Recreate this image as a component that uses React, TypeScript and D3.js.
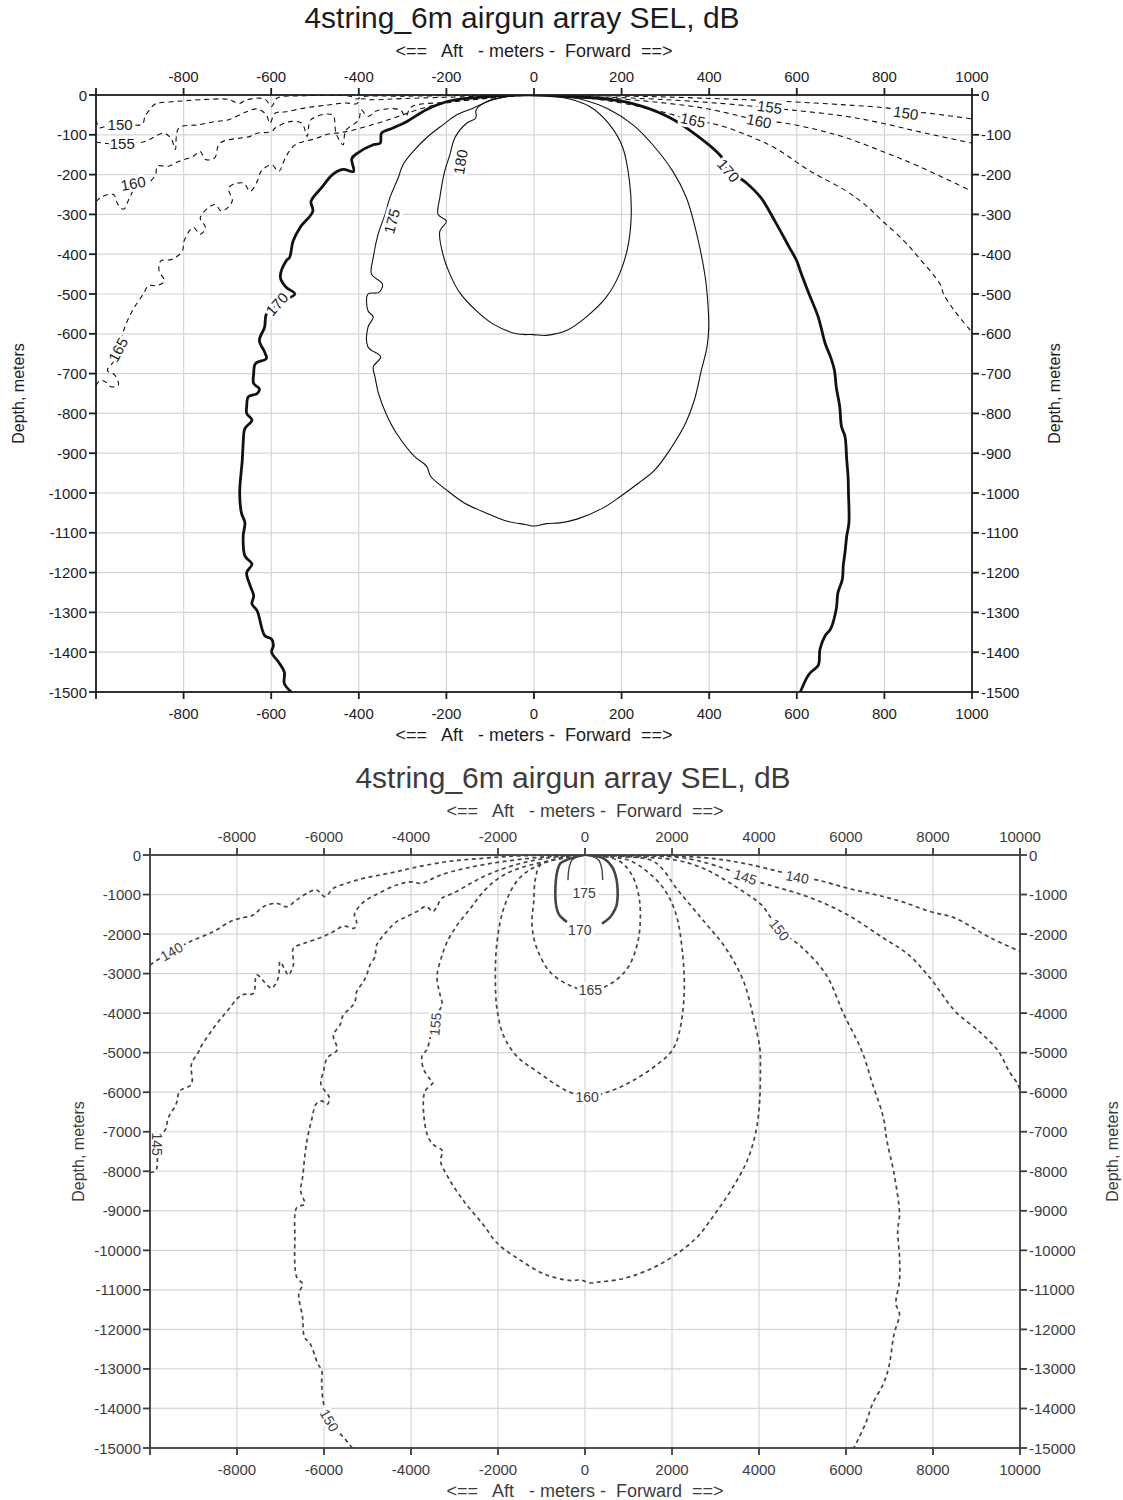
import React from "react";
import { scaleLinear, line, curveCatmullRom, range } from "d3";

type Pt = [number, number];
type Label = { text: string; x: number; y: number; angle: number };

const FONT = "'Liberation Sans', Arial, Helvetica, sans-serif";
const TITLE = "4string_6m airgun array SEL, dB";
const SUBTITLE = "<==   Aft   - meters -  Forward  ==>";

// ---------- near field (meters) ----------
const nearXTicks = range(-1000, 1001, 200);
const nearYTicks = range(0, -1501, -100);

const near180: Pt[] = [
  [0, 0], [-63, -4], [-109, -17], [-132, -37], [-133, -58], [-154, -71], [-181, -108], [-192, -150],
  [-204, -192], [-215, -258], [-219, -300], [-200, -317], [-215, -342], [-208, -400], [-192, -450],
  [-170, -496], [-132, -542], [-94, -575], [-40, -600], [-2, -602], [28, -604], [74, -592], [119, -558],
  [165, -508], [195, -450], [214, -383], [222, -300], [218, -217], [203, -133], [173, -75], [127, -29],
  [74, -8], [0, 0],
];

const near175: Pt[] = [
  [0, 0], [-48, -2], [-94, -12], [-139, -33], [-177, -50], [-208, -75], [-246, -108], [-276, -142],
  [-299, -175], [-310, -208], [-329, -258], [-340, -300], [-356, -350], [-367, -408], [-371, -450],
  [-346, -475], [-354, -496], [-379, -500], [-379, -542], [-367, -558], [-379, -583], [-379, -633],
  [-350, -658], [-367, -683], [-363, -708], [-355, -750], [-338, -800], [-314, -850], [-273, -908],
  [-245, -933], [-236, -958], [-200, -992], [-159, -1025], [-110, -1050], [-61, -1071], [-20, -1079],
  [0, -1083], [29, -1077], [59, -1075], [100, -1065], [157, -1038], [198, -1008], [239, -975],
  [276, -942], [313, -887], [346, -825], [366, -767], [382, -692], [395, -633], [399, -583],
  [397, -525], [391, -458], [370, -342], [348, -258], [317, -192], [271, -125], [226, -75],
  [173, -37], [112, -12], [59, -2], [0, 0],
];

const near170: Pt[] = [
  [-554, -1500], [-570, -1479], [-570, -1450], [-583, -1425], [-599, -1400], [-595, -1383], [-599, -1367],
  [-615, -1358], [-632, -1296], [-644, -1279], [-640, -1258], [-648, -1233], [-656, -1200], [-644, -1179],
  [-660, -1158], [-664, -1108], [-660, -1075], [-668, -1050], [-672, -1000], [-666, -917], [-664, -875],
  [-660, -838], [-644, -817], [-656, -800], [-656, -783], [-652, -758], [-632, -750], [-627, -738],
  [-640, -725], [-640, -700], [-636, -675], [-611, -662], [-615, -646], [-627, -617], [-615, -583],
  [-611, -550], [-587, -525], [-546, -500], [-566, -483], [-579, -458], [-566, -417], [-558, -408],
  [-550, -367], [-534, -333], [-505, -292], [-509, -267], [-485, -233], [-460, -200], [-436, -187],
  [-412, -192], [-416, -160], [-403, -146], [-367, -125], [-351, -121], [-348, -96], [-322, -83],
  [-291, -67], [-246, -37], [-200, -17], [-139, -7], [-78, -2], [0, 0],
  [74, -4], [141, -8], [223, -21], [305, -54], [370, -100], [427, -154], [444, -188], [485, -221],
  [518, -258], [550, -317], [583, -383], [600, -417], [608, -442], [628, -500], [649, -558], [665, -625],
  [677, -658], [686, -692], [690, -733], [698, -783], [702, -833], [710, -858], [714, -917], [717, -958],
  [718, -1000], [719, -1075], [714, -1108], [710, -1150], [706, -1183], [704, -1217], [694, -1250],
  [690, -1292], [677, -1342], [665, -1358], [653, -1392], [649, -1433], [632, -1450], [624, -1462],
  [608, -1500],
];

const near165: Pt[] = [
  [-1000, -730], [-990, -717], [-978, -721], [-966, -733], [-949, -729], [-957, -704], [-974, -692],
  [-960, -670], [-949, -642], [-937, -592], [-917, -542], [-892, -500], [-880, -479], [-860, -479],
  [-844, -467], [-856, -442], [-852, -417], [-827, -413], [-803, -392], [-799, -367], [-778, -333],
  [-762, -350], [-750, -333], [-762, -308], [-729, -275], [-713, -292], [-689, -267], [-697, -233],
  [-664, -221], [-648, -242], [-632, -217], [-623, -192], [-599, -175], [-583, -192], [-566, -154],
  [-545, -125], [-500, -110], [-470, -98], [-445, -95], [-420, -90], [-380, -78], [-340, -65],
  [-300, -50], [-250, -32], [-200, -20], [-100, -7], [0, 0],
  [59, -1], [141, -10], [223, -25], [305, -46], [363, -63], [419, -75], [485, -100], [550, -133],
  [632, -192], [714, -242], [755, -275], [796, -317], [845, -367], [878, -408], [927, -475],
  [935, -500], [960, -542], [1000, -596],
];

const near160: Pt[] = [
  [-1000, -268], [-985, -255], [-960, -250], [-950, -275], [-937, -287], [-925, -262], [-915, -240],
  [-905, -225], [-880, -220], [-864, -200], [-860, -179], [-835, -179], [-811, -167], [-778, -154],
  [-762, -142], [-750, -162], [-729, -158], [-717, -121], [-648, -104], [-632, -96], [-599, -92],
  [-591, -83], [-558, -67], [-530, -71], [-518, -104], [-509, -62], [-460, -50], [-452, -96],
  [-436, -125], [-430, -90], [-400, -62], [-395, -37], [-379, -54], [-360, -40], [-306, -37],
  [-293, -54], [-280, -30], [-200, -18], [-100, -8], [0, 0],
  [100, -4], [223, -12], [387, -33], [514, -63], [575, -71], [649, -88], [714, -108], [796, -142],
  [878, -179], [1000, -242],
];

const near155: Pt[] = [
  [-1000, -118], [-975, -122], [-940, -121], [-905, -120], [-888, -117], [-844, -96], [-827, -113],
  [-819, -137], [-811, -83], [-766, -75], [-729, -67], [-697, -62], [-656, -42], [-632, -35],
  [-611, -50], [-603, -71], [-591, -46], [-566, -42], [-520, -32], [-470, -25], [-430, -20],
  [-405, -22], [-395, -10], [-370, -12], [-300, -9], [-150, -4], [0, 0],
  [100, -3], [305, -12], [468, -25], [538, -33], [591, -38], [714, -54], [796, -71], [878, -92],
  [1000, -121],
];

const near150: Pt[] = [
  [-1000, -62], [-992, -82], [-975, -78], [-940, -75], [-905, -76], [-893, -72], [-888, -54],
  [-868, -25], [-860, -21], [-803, -15], [-762, -12], [-697, -11], [-685, -17], [-672, -21],
  [-656, -12], [-615, -10], [-599, -29], [-587, -8], [-526, -2], [-420, -3], [-405, -10],
  [-390, -4], [-300, -3], [-150, -1], [0, 0],
  [100, -2], [223, -3], [387, -8], [550, -15], [714, -25], [800, -32], [849, -40], [903, -46],
  [1000, -60],
];

const nearLabels: Label[] = [
  { text: "150", x: -945, y: -73, angle: 0 },
  { text: "155", x: -940, y: -121, angle: 0 },
  { text: "160", x: -915, y: -222, angle: -10 },
  { text: "165", x: -950, y: -640, angle: -62 },
  { text: "170", x: -587, y: -525, angle: -48 },
  { text: "175", x: -325, y: -317, angle: -75 },
  { text: "180", x: -168, y: -168, angle: -80 },
  { text: "165", x: 363, y: -63, angle: 12 },
  { text: "160", x: 514, y: -65, angle: 12 },
  { text: "155", x: 538, y: -30, angle: 8 },
  { text: "150", x: 849, y: -45, angle: 8 },
  { text: "170", x: 444, y: -190, angle: 50 },
];

// ---------- far field (meters) ----------
const farXTicks = range(-10000, 10001, 2000);
const farYTicks = range(0, -15001, -1000);

const far175Left: Pt[] = [[-40, 0], [-150, -30], [-299, -127], [-360, -297], [-385, -500], [-391, -636]];
const far175Right: Pt[] = [[40, 0], [160, -30], [314, -127], [385, -339], [400, -500], [406, -636]];

const far170Left: Pt[] = [
  [-30, 0], [-250, -60], [-450, -140], [-567, -212], [-640, -420], [-670, -650], [-682, -1017],
  [-660, -1300], [-600, -1500], [-520, -1600], [-414, -1695],
];
const far170Right: Pt[] = [
  [30, 0], [250, -30], [429, -85], [621, -297], [720, -593], [751, -1017], [730, -1250], [697, -1356],
  [582, -1568], [391, -1737],
];

const far165: Pt[] = [
  [0, 0], [-400, -40], [-800, -150], [-1030, -260], [-1140, -600], [-1180, -1190], [-1218, -1780],
  [-1103, -2373], [-797, -2966], [-337, -3305], [123, -3420], [582, -3263], [966, -2881],
  [1195, -2288], [1272, -1610], [1234, -1017], [1080, -508], [812, -169], [352, -17], [0, 0],
];

const far160: Pt[] = [
  [0, 0], [-600, -80], [-1200, -330], [-1580, -680], [-1870, -1356], [-2023, -2203], [-2061, -3051],
  [-2023, -3898], [-1870, -4576], [-1560, -5100], [-1119, -5463], [-414, -5968], [50, -6110],
  [594, -5968], [1088, -5715], [1665, -5295], [1995, -4958], [2156, -4538], [2279, -3529],
  [2238, -2437], [2073, -1429], [1743, -756], [1088, -168], [600, -50], [0, 0],
];

const far155: Pt[] = [
  [0, 0], [-261, -42], [-720, -127], [-1257, -254], [-1716, -424], [-2100, -678], [-2406, -1017],
  [-2636, -1356], [-2943, -1780], [-3172, -2203], [-3287, -2542], [-3402, -3051], [-3364, -3390],
  [-3326, -3559], [-3287, -3771], [-3400, -4050], [-3441, -4280], [-3550, -4600], [-3632, -4915],
  [-3747, -5085], [-3709, -5424], [-3556, -5678], [-3498, -5758], [-3674, -5968], [-3718, -6305],
  [-3630, -7062], [-3498, -7315], [-3278, -7483], [-3322, -7736], [-3145, -8157], [-2793, -8746],
  [-2352, -9335], [-2000, -9840], [-1471, -10261], [-943, -10598], [-326, -10766], [-106, -10749],
  [115, -10825], [264, -10808], [841, -10724], [1418, -10514], [1995, -10177], [2572, -9672],
  [2984, -9082], [3396, -8409], [3726, -7736], [3933, -6978], [4015, -6220], [4032, -5379],
  [4020, -4900], [3891, -4202], [3644, -3193], [3232, -2353], [2737, -1681], [2160, -924],
  [1583, -168], [800, -40], [0, 0],
];

const far150: Pt[] = [
  [-5348, -15000], [-5524, -14764], [-5877, -14301], [-6009, -13880], [-6053, -13375], [-6053, -13039],
  [-6141, -12870], [-6317, -12365], [-6449, -12197], [-6493, -11692], [-6581, -11103], [-6493, -10850],
  [-6626, -10682], [-6670, -9672], [-6626, -8914], [-6449, -8830], [-6537, -8493], [-6493, -8157],
  [-6405, -7315], [-6273, -6641], [-6185, -6305], [-6053, -6221], [-5921, -6305], [-5877, -6136],
  [-6070, -5800], [-6009, -5463], [-5921, -5126], [-5700, -4930], [-5785, -4553], [-5632, -4300],
  [-5556, -4047], [-5402, -3879], [-5287, -3710], [-5249, -3457], [-5096, -3204], [-5019, -3035],
  [-4943, -2782], [-4828, -2572], [-4789, -2276], [-4559, -1939], [-4330, -1686], [-4100, -1560],
  [-3850, -1420], [-3650, -1300], [-3500, -1430], [-3400, -1300], [-3300, -1100], [-3000, -950],
  [-2600, -700], [-2200, -480], [-1700, -280], [-1100, -120], [-500, -30], [0, 0],
  [1000, -40], [2077, -126], [2700, -330], [3149, -588], [3600, -900], [4056, -1261], [4468, -1891],
  [4963, -2311], [5540, -3025], [5952, -4034], [6364, -4958], [6612, -5800], [6859, -6641],
  [6941, -7231], [7106, -8072], [7230, -9082], [7189, -9503], [7230, -10177], [7230, -10766],
  [7148, -11355], [7230, -11608], [7106, -12113], [6983, -12955], [6859, -13375], [6612, -13880],
  [6447, -14386], [6180, -15000],
];

const far145: Pt[] = [
  [-10000, -8030], [-9870, -7990], [-9830, -7700], [-9841, -7315], [-9885, -7062], [-9665, -6978],
  [-9577, -6641], [-9401, -6305], [-9313, -5968], [-9048, -5800], [-9048, -5295], [-8872, -4958],
  [-8851, -4890], [-8544, -4384], [-8238, -3963], [-7893, -3541], [-7625, -3499], [-7548, -3035],
  [-7300, -3300], [-7203, -3373], [-7050, -3100], [-7011, -2698], [-6900, -2900], [-6820, -3035],
  [-6705, -2782], [-6705, -2361], [-6450, -2230], [-6100, -2100], [-5800, -1950], [-5550, -1800],
  [-5300, -1850], [-5250, -1700], [-5300, -1500], [-5100, -1200], [-4800, -1000], [-4330, -759],
  [-4000, -680], [-3750, -720], [-3550, -620], [-3300, -500], [-2800, -350], [-2200, -220],
  [-1500, -110], [-700, -30], [0, 0],
  [1200, -20], [2325, -84], [3396, -420], [3685, -588], [4221, -756], [5210, -1092], [6035, -1513],
  [6859, -2101], [7436, -2521], [7931, -3109], [8508, -3950], [9100, -4500], [9500, -4958],
  [9745, -5463], [9951, -5800], [10000, -5968],
];

const far140: Pt[] = [
  [-10000, -2782], [-9770, -2614], [-9502, -2445], [-9080, -2192], [-8544, -1939], [-8161, -1686],
  [-7931, -1602], [-7625, -1518], [-7395, -1307], [-7088, -1223], [-6858, -1307], [-6628, -1138],
  [-6322, -927], [-6169, -885], [-5977, -1054], [-5785, -843], [-5479, -717], [-5096, -590],
  [-4713, -506], [-4330, -422], [-4000, -336], [-3180, -168], [-2361, -84], [-1541, -25], [0, 0],
  [1500, -15], [2737, -67], [3600, -200], [4468, -420], [4880, -540], [5375, -640], [6035, -840],
  [6694, -1008], [7271, -1176], [7931, -1429], [8508, -1597], [9332, -2101], [10000, -2437],
];

const farLabels: Label[] = [
  { text: "175", x: -20, y: -960, angle: 0 },
  { text: "170", x: -120, y: -1900, angle: 0 },
  { text: "165", x: 123, y: -3420, angle: 0 },
  { text: "160", x: 50, y: -6110, angle: 0 },
  { text: "155", x: -3441, y: -4280, angle: -85 },
  { text: "150", x: -5877, y: -14301, angle: 60 },
  { text: "145", x: -9841, y: -7315, angle: 90 },
  { text: "140", x: -9502, y: -2445, angle: -30 },
  { text: "145", x: 3685, y: -560, angle: 18 },
  { text: "140", x: 4880, y: -560, angle: 10 },
  { text: "150", x: 4468, y: -1891, angle: 52 },
];

type LineKind = "thin" | "thick" | "dash";
type Contour = { pts: Pt[]; kind: LineKind };

const nearContours: Contour[] = [
  { pts: near150, kind: "dash" },
  { pts: near155, kind: "dash" },
  { pts: near160, kind: "dash" },
  { pts: near165, kind: "dash" },
  { pts: near170, kind: "thick" },
  { pts: near175, kind: "thin" },
  { pts: near180, kind: "thin" },
];

const farContours: Contour[] = [
  { pts: far140, kind: "dash" },
  { pts: far145, kind: "dash" },
  { pts: far150, kind: "dash" },
  { pts: far155, kind: "dash" },
  { pts: far160, kind: "dash" },
  { pts: far165, kind: "dash" },
  { pts: far170Left, kind: "thick" },
  { pts: far170Right, kind: "thick" },
  { pts: far175Left, kind: "thin" },
  { pts: far175Right, kind: "thin" },
];

type PanelProps = {
  id: string;
  left: number;
  top: number;
  width: number;
  height: number;
  xDomain: [number, number];
  yDomain: [number, number];
  xTicks: number[];
  yTicks: number[];
  contours: Contour[];
  labels: Label[];
  ink: string;
  lineInk: string;
  widths: Record<LineKind, number>;
  dash: string;
  labelSize: number;
  depthLeft: number;
  depthRight: number;
};

const Panel = (p: PanelProps) => {
  const x = scaleLinear().domain(p.xDomain).range([p.left, p.left + p.width]);
  const y = scaleLinear().domain(p.yDomain).range([p.top, p.top + p.height]);
  const path = line<Pt>()
    .x((d) => x(d[0]))
    .y((d) => y(d[1]))
    .curve(curveCatmullRom.alpha(0.5));
  const right = p.left + p.width;
  const bottom = p.top + p.height;
  const cx = p.left + p.width / 2;
  const midY = p.top + p.height / 2;
  const tick = 7;

  return (
    <g fontFamily={FONT} fill={p.ink}>
      <defs>
        <clipPath id={`clip-${p.id}`}>
          <rect x={p.left} y={p.top} width={p.width} height={p.height} />
        </clipPath>
      </defs>

      {/* titles */}
      <text x={cx - 12} y={p.top - 67} fontSize={30} textAnchor="middle">
        {TITLE}
      </text>
      <text x={cx} y={p.top - 38} fontSize={18} textAnchor="middle" style={{ whiteSpace: "pre" }}>
        {SUBTITLE}
      </text>
      <text x={cx} y={bottom + 49} fontSize={18} textAnchor="middle" style={{ whiteSpace: "pre" }}>
        {SUBTITLE}
      </text>

      {/* grid */}
      <g stroke="#d6d6d6" strokeWidth={1.2}>
        {p.xTicks.slice(1, -1).map((t) => (
          <line key={`gx${t}`} x1={x(t)} x2={x(t)} y1={p.top} y2={bottom} />
        ))}
        {p.yTicks.slice(1, -1).map((t) => (
          <line key={`gy${t}`} x1={p.left} x2={right} y1={y(t)} y2={y(t)} />
        ))}
      </g>

      {/* contours */}
      <g clipPath={`url(#clip-${p.id})`} fill="none" stroke={p.lineInk} strokeLinejoin="round">
        {p.contours.map((c, i) => (
          <path
            key={i}
            d={path(c.pts) || ""}
            strokeWidth={p.widths[c.kind]}
            strokeDasharray={c.kind === "dash" ? p.dash : undefined}
          />
        ))}
      </g>

      {/* contour labels */}
      {p.labels.map((l, i) => (
        <text
          key={i}
          transform={`translate(${x(l.x)},${y(l.y)}) rotate(${l.angle})`}
          fontSize={p.labelSize}
          textAnchor="middle"
          dominantBaseline="central"
          stroke="#fff"
          strokeWidth={6}
          strokeLinejoin="round"
          paintOrder="stroke"
        >
          {l.text}
        </text>
      ))}

      {/* frame and ticks */}
      <g stroke={p.ink} strokeWidth={1.8} fill="none">
        <rect x={p.left} y={p.top} width={p.width} height={p.height} />
        {p.xTicks.map((t) => (
          <g key={`tx${t}`}>
            <line x1={x(t)} x2={x(t)} y1={p.top} y2={p.top - tick} />
            <line x1={x(t)} x2={x(t)} y1={bottom} y2={bottom + tick} />
          </g>
        ))}
        {p.yTicks.map((t) => (
          <g key={`ty${t}`}>
            <line x1={p.left} x2={p.left - tick} y1={y(t)} y2={y(t)} />
            <line x1={right} x2={right + tick} y1={y(t)} y2={y(t)} />
          </g>
        ))}
      </g>

      {/* tick labels */}
      <g fontSize={15}>
        {p.xTicks.slice(1).map((t) => (
          <g key={`lx${t}`}>
            <text x={x(t)} y={p.top - 13} textAnchor="middle">{t}</text>
            <text x={x(t)} y={bottom + 27} textAnchor="middle">{t}</text>
          </g>
        ))}
        {p.yTicks.map((t) => (
          <g key={`ly${t}`}>
            <text x={p.left - 9} y={y(t)} textAnchor="end" dominantBaseline="central">{t}</text>
            <text x={right + 9} y={y(t)} textAnchor="start" dominantBaseline="central">{t}</text>
          </g>
        ))}
      </g>

      <text
        transform={`translate(${p.left + p.depthLeft},${midY}) rotate(-90)`}
        fontSize={16}
        textAnchor="middle"
      >
        Depth, meters
      </text>
      <text
        transform={`translate(${right + p.depthRight},${midY}) rotate(-90)`}
        fontSize={16}
        textAnchor="middle"
      >
        Depth, meters
      </text>
    </g>
  );
};

export default function App() {
  return (
    <svg
      width={1123}
      height={1500}
      style={{ position: "absolute", left: 0, top: 0, background: "#fff" }}
    >
      <rect width={1123} height={1500} fill="#fff" />
      <Panel
        id="near"
        left={96}
        top={95}
        width={876}
        height={597}
        xDomain={[-1000, 1000]}
        yDomain={[0, -1500]}
        xTicks={nearXTicks}
        yTicks={nearYTicks}
        contours={nearContours}
        labels={nearLabels}
        ink="#1c1c1c"
        lineInk="#111"
        widths={{ thin: 1.1, thick: 2.8, dash: 1.1 }}
        dash="5,4"
        labelSize={15}
        depthLeft={-72}
        depthRight={88}
      />
      <Panel
        id="far"
        left={150}
        top={855}
        width={870}
        height={593}
        xDomain={[-10000, 10000]}
        yDomain={[0, -15000]}
        xTicks={farXTicks}
        yTicks={farYTicks}
        contours={farContours}
        labels={farLabels}
        ink="#3c3c3c"
        lineInk="#454545"
        widths={{ thin: 1.4, thick: 2.6, dash: 1.7 }}
        dash="4,3.5"
        labelSize={14}
        depthLeft={-66}
        depthRight={98}
      />
    </svg>
  );
}
